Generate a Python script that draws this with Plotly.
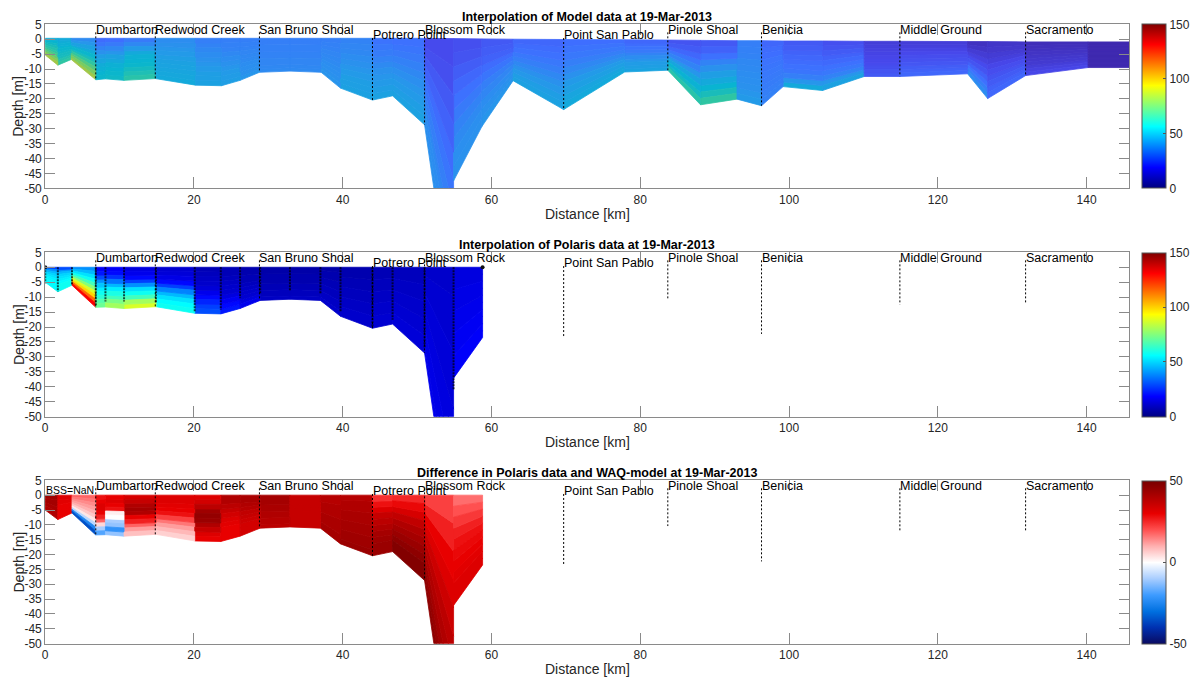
import plotly.graph_objects as go
from plotly.colors import sample_colorscale

# ---------------- model transect (km along the channel, depths in m) ----------------
model_km = [0.0, 1.7, 3.5, 6.8, 8.1, 10.6, 14.8, 20.2, 23.7, 26.2, 28.8, 32.9, 37.1, 39.7,
            44.0, 46.7, 51.0, 54.9, 54.9, 58.7, 62.9, 69.7, 77.9, 83.7, 88.1, 93.0, 96.3,
            99.2, 104.5, 110.1, 114.9, 124.0, 126.7, 131.8, 140.2, 145.7]
model_bottom_m = [-5.3, -8.7, -6.8, -13.6, -13.3, -13.8, -13.2, -15.4, -15.6, -13.8, -11.1,
                  -10.7, -11.1, -16.4, -20.4, -19.0, -28.7, -95.0, -47.5, -29.3, -13.9,
                  -23.6, -11.0, -10.4, -22.0, -20.1, -22.3, -15.9, -17.2, -12.5, -12.5,
                  -11.6, -19.9, -12.2, -9.5, -9.5]
model_surface_m = [0.3, 0.3, 0.3, 0.3, 0.3, 0.3, 0.3, 0.3, 0.3, 0.3, 0.3, 0.3, 0.3, 0.3,
                   0.3, 0.3, 0.3, 0.2, 0.2, 0.1, 0.0, -0.1, -0.2, -0.3, -0.4, -0.5, -0.5,
                   -0.6, -0.6, -0.7, -0.7, -0.8, -0.8, -0.9, -0.9, -0.9]
# one row per column between neighbouring grid points, surface layer first
model_ssc = [
    [62, 66, 70, 74, 78, 82, 88, 94, 100, 106],
    [60, 62, 64, 66, 68, 70, 72, 74, 78, 82],
    [45, 50, 56, 62, 68, 74, 82, 90, 98, 106],
    [32, 36, 42, 48, 54, 58, 62, 64, 66, 68],
    [33, 38, 44, 50, 56, 60, 64, 66, 68, 70],
    [38, 44, 52, 60, 64, 66, 68, 72, 76, 80],
    [46, 48, 50, 52, 54, 56, 57, 58, 59, 60],
    [40, 42, 44, 46, 48, 50, 52, 54, 55, 56],
    [40, 41, 42, 44, 46, 48, 50, 52, 53, 54],
    [40, 41, 42, 43, 44, 45, 46, 47, 48, 50],
    [40, 40, 41, 41, 42, 42, 43, 43, 44, 45],
    [40, 40, 41, 41, 42, 42, 43, 43, 44, 45],
    [40, 41, 42, 43, 44, 45, 46, 47, 48, 49],
    [42, 43, 44, 46, 48, 50, 52, 54, 55, 56],
    [35, 37, 39, 42, 45, 48, 50, 52, 54, 56],
    [34, 36, 38, 41, 44, 47, 50, 52, 54, 56],
    [18, 20, 24, 28, 32, 36, 40, 44, 46, 48],
    [18, 20, 24, 28, 32, 36, 40, 44, 46, 48],
    [20, 22, 26, 30, 34, 38, 42, 45, 47, 48],
    [24, 26, 28, 32, 36, 40, 43, 46, 48, 50],
    [30, 32, 34, 37, 40, 44, 48, 51, 54, 56],
    [33, 35, 37, 40, 44, 48, 52, 55, 58, 60],
    [30, 32, 35, 38, 42, 46, 50, 53, 55, 57],
    [22, 25, 30, 36, 42, 50, 58, 65, 72, 80],
    [24, 28, 34, 42, 48, 54, 60, 66, 74, 82],
    [40, 41, 42, 44, 45, 46, 47, 48, 50, 52],
    [30, 32, 33, 35, 36, 37, 38, 39, 40, 41],
    [24, 26, 28, 30, 32, 34, 36, 40, 50, 60],
    [20, 22, 25, 28, 31, 34, 37, 42, 50, 56],
    [12, 13, 14, 15, 16, 17, 18, 20, 22, 24],
    [12, 13, 15, 17, 19, 21, 23, 26, 28, 30],
    [6, 8, 11, 14, 18, 22, 28, 34, 40, 46],
    [8, 9, 11, 13, 16, 19, 22, 25, 28, 30],
    [4, 5, 6, 7, 8, 9, 10, 12, 14, 16],
    [2, 2, 2, 2, 2, 2, 2, 2, 2, 2],
]

# ---------------- Polaris cruise grid ----------------
polaris_km = [0.0, 1.7, 3.6, 6.8, 8.1, 10.6, 14.9, 20.1, 23.6, 26.2, 28.9, 32.9, 37.0,
              39.7, 44.0, 46.7, 51.0, 54.9, 54.9, 58.8]
polaris_bottom_m = [-5.0, -8.2, -6.0, -13.4, -13.3, -13.8, -13.2, -15.4, -15.6, -13.8,
                    -11.1, -10.7, -11.1, -16.4, -20.4, -19.0, -28.7, -95.0, -37.1, -23.5]
polaris_surface_m = [0.0] * 20
polaris_ssc = [
    [28, 40, 46, 50, 52, 54, 55, 56, 56, 56],
    [30, 40, 46, 50, 52, 54, 56, 58, 58, 58],
    [40, 46, 52, 58, 66, 76, 88, 100, 116, 132],
    [18, 22, 30, 40, 48, 54, 58, 62, 68, 72],
    [18, 20, 26, 36, 46, 54, 60, 66, 74, 80],
    [14, 16, 20, 28, 40, 52, 58, 66, 80, 88],
    [12, 13, 15, 20, 28, 38, 46, 52, 56, 58],
    [8, 9, 10, 11, 13, 16, 20, 24, 28, 30],
    [8, 8, 9, 10, 11, 12, 14, 17, 20, 22],
    [7, 7, 8, 8, 9, 10, 11, 12, 14, 16],
    [6, 6, 7, 7, 7, 8, 8, 9, 9, 10],
    [6, 6, 7, 7, 7, 8, 8, 9, 9, 10],
    [6, 7, 7, 8, 8, 9, 9, 10, 10, 11],
    [7, 7, 8, 8, 9, 9, 10, 10, 11, 11],
    [8, 8, 9, 9, 10, 10, 11, 11, 12, 12],
    [9, 9, 10, 10, 11, 11, 12, 12, 13, 13],
    [11, 12, 12, 13, 13, 14, 14, 15, 15, 16],
    [11, 12, 12, 13, 13, 14, 14, 15, 15, 16],
    [14, 14, 15, 15, 16, 16, 17, 17, 18, 18],
]
difference = [
    [43, 43, 42, 42, 42, 41, 41, 40, 40, 40],
    [32, 32, 31, 31, 30, 30, 30, 30, 30, 30],
    [18, 16, 14, 12, 10, 7, 3, -8, -25, -35],
    [28, 30, 32, 32, 30, 26, 18, 5, -10, -18],
    [30, 32, 30, 28, 2, 0, -10, -12, -22, -12],
    [33, 36, 40, 42, 40, 30, 26, 18, 12, 8],
    [32, 32, 31, 30, 28, 22, 16, 12, 9, 6],
    [32, 34, 38, 43, 45, 44, 40, 36, 32, 30],
    [40, 40, 38, 36, 34, 32, 31, 30, 30, 30],
    [41, 41, 40, 39, 37, 36, 35, 34, 34, 34],
    [42, 42, 42, 41, 41, 40, 40, 39, 39, 38],
    [36, 36, 36, 36, 36, 36, 36, 36, 36, 36],
    [39, 39, 40, 40, 40, 41, 41, 41, 42, 42],
    [39, 40, 40, 41, 41, 42, 42, 43, 43, 44],
    [24, 28, 32, 36, 38, 40, 42, 43, 44, 44],
    [25, 29, 33, 37, 40, 42, 44, 46, 48, 48],
    [22, 26, 30, 32, 35, 38, 40, 42, 44, 46],
    [22, 26, 30, 32, 35, 38, 40, 42, 44, 46],
    [17, 20, 23, 26, 28, 29, 30, 31, 32, 32],
]

# sampled profiles of the cruise
profile_km = [0.0, 1.7, 3.6, 6.8, 8.1, 10.6, 14.9, 20.1, 23.6, 26.2, 28.9, 32.9, 37.0,
              39.7, 44.0, 46.7, 51.0, 54.9]
profile_bottom_m = [-5.4, -8.1, -5.9, -12.6, -11.5, -11.5, -12.0, -14.8, -14.2, -10.4,
                    -8.7, -8.0, -8.7, -14.8, -19.8, -17.6, -27.0, -41.0]
surface_sample_km = [0.0, 58.8]

# named stations along the transect
station_names = ["Dumbarton", "Redwood Creek", "San Bruno Shoal", "Potrero Point",
                 "Blossom Rock", "Point San Pablo", "Pinole Shoal", "Benicia",
                 "Middle Ground", "Sacramento"]
station_km = [6.8, 14.8, 28.8, 44.0, 51.0, 69.7, 83.7, 96.3, 114.9, 131.8]
station_label_m = [3.2, 3.2, 3.2, 1.3, 3.2, 1.3, 3.2, 3.2, 3.2, 3.2]
station_bottom_m = [-13.6, -13.2, -11.1, -20.4, -28.7, -23.6, -10.4, -22.3, -12.5, -12.2]

titles = ["Interpolation of Model data at 19-Mar-2013",
          "Interpolation of Polaris data at 19-Mar-2013",
          "Difference in Polaris data and WAQ-model at 19-Mar-2013"]

x_ticks = [0, 20, 40, 60, 80, 100, 120, 140]
y_ticks = [5, 0, -5, -10, -15, -20, -25, -30, -35, -40, -45, -50]
X_RANGE = [0, 145.7]
Y_RANGE = [-50, 5]

# ---------------- colour maps ----------------
JET = [[0.0, "rgb(0,0,128)"], [0.125, "rgb(0,0,255)"], [0.375, "rgb(0,255,255)"],
       [0.625, "rgb(255,255,0)"], [0.875, "rgb(255,0,0)"], [1.0, "rgb(128,0,0)"]]
PARULA = [[0.0, "rgb(62,38,168)"], [0.111, "rgb(71,71,235)"], [0.222, "rgb(62,111,255)"],
          [0.333, "rgb(39,150,235)"], [0.444, "rgb(8,181,208)"], [0.556, "rgb(49,198,159)"],
          [0.667, "rgb(129,204,89)"], [0.778, "rgb(220,189,41)"], [0.889, "rgb(252,207,48)"],
          [1.0, "rgb(249,251,21)"]]
BWR = [[0.0, "rgb(10,10,96)"], [0.1, "rgb(0,48,176)"], [0.2, "rgb(0,112,224)"],
       [0.3, "rgb(61,155,255)"], [0.4, "rgb(168,205,255)"], [0.5, "rgb(255,255,255)"],
       [0.6, "rgb(255,176,176)"], [0.7, "rgb(255,80,80)"], [0.8, "rgb(232,0,0)"],
       [0.9, "rgb(176,0,0)"], [1.0, "rgb(120,0,0)"]]

FONT = "Liberation Sans, Arial, Helvetica, sans-serif"
W, H = 1194, 677
AX_LEFT, AX_RIGHT = 45.2, 1129.0
PANELS = [(24.3, 188.3), (252.3, 416.7), (480.3, 643.7)]


def px_x(p):
    return p / W


def px_y(p):
    return 1 - p / H


def clip_to_floor(pts, floor):
    """Cut a polygon at the lower edge of the visible depth range."""
    out = []
    for i in range(len(pts)):
        cur, prev = pts[i], pts[i - 1]
        cur_in, prev_in = cur[1] >= floor, prev[1] >= floor
        if cur_in != prev_in:
            f = (floor - prev[1]) / (cur[1] - prev[1])
            out.append((prev[0] + f * (cur[0] - prev[0]), floor))
        if cur_in:
            out.append(cur)
    return out


fig = go.Figure()


def add_cells(km, bottom, surface, values, cscale, vmin, vmax, ax):
    """Fill each sigma-layer cell of the section with a flat colour."""
    groups = {}
    n_layers = len(values[0])

    def depth(j, s):
        return surface[j] + (bottom[j] - surface[j]) * s

    for i in range(len(km) - 1):
        if km[i + 1] == km[i]:
            continue
        for k in range(n_layers):
            s0, s1 = k / n_layers, (k + 1) / n_layers
            pts = [(km[i], depth(i, s0)), (km[i + 1], depth(i + 1, s0)),
                   (km[i + 1], depth(i + 1, s1)), (km[i], depth(i, s1))]
            pts = clip_to_floor(pts, Y_RANGE[0])
            if len(pts) < 3:
                continue
            t = (values[i][k] - vmin) / (vmax - vmin)
            t = min(max(t, 0.0), 1.0)
            col = sample_colorscale(cscale, [t])[0]
            gx, gy = groups.setdefault(col, ([], []))
            gx.extend([p[0] for p in pts] + [pts[0][0], None])
            gy.extend([p[1] for p in pts] + [pts[0][1], None])
    for col, (gx, gy) in groups.items():
        fig.add_trace(go.Scatter(x=gx, y=gy, mode="lines", fill="toself", fillcolor=col,
                                 line=dict(color=col, width=0.8, simplify=False),
                                 hoverinfo="skip", showlegend=False,
                                 xaxis="x" + ax, yaxis="y" + ax))


add_cells(model_km, model_bottom_m, model_surface_m, model_ssc, PARULA, 0, 150, "")
add_cells(polaris_km, polaris_bottom_m, polaris_surface_m, polaris_ssc, JET, 0, 150, "2")
add_cells(polaris_km, polaris_bottom_m, polaris_surface_m, difference, BWR, -50, 50, "3")

# cruise sampling profiles
for xk, zb in zip(profile_km, profile_bottom_m):
    fig.add_trace(go.Scatter(x=[xk, xk], y=[0, zb], mode="lines",
                             line=dict(color="rgba(0,0,0,0.7)", width=2, dash="2px,1px"),
                             hoverinfo="skip", showlegend=False, xaxis="x2", yaxis="y2"))
fig.add_trace(go.Scatter(x=surface_sample_km, y=[0, 0], mode="markers",
                         marker=dict(color="#111", size=4), hoverinfo="skip",
                         showlegend=False, xaxis="x2", yaxis="y2"))

annotations = []
for p, ax in enumerate(["", "2", "3"]):
    # station markers
    for name, xk, zl, zb in zip(station_names, station_km, station_label_m, station_bottom_m):
        fig.add_trace(go.Scatter(x=[xk, xk], y=[zl - 0.9, zb], mode="lines",
                                 line=dict(color="black", width=1, dash="2px,2px"),
                                 hoverinfo="skip", showlegend=False,
                                 xaxis="x" + ax, yaxis="y" + ax))
        annotations.append(dict(x=xk, y=zl, xref="x" + ax, yref="y" + ax, text=name,
                                showarrow=False, xanchor="left", yanchor="middle",
                                xshift=-2, font=dict(family=FONT, size=12.5, color="black")))
    top, bot = PANELS[p]
    annotations.append(dict(x=px_x((AX_LEFT + AX_RIGHT) / 2), y=px_y(top - 7), xref="paper",
                            yref="paper", text="<b>" + titles[p] + "</b>", showarrow=False,
                            xanchor="center", yanchor="middle",
                            font=dict(family=FONT, size=12.5, color="black")))
    annotations.append(dict(x=px_x((AX_LEFT + AX_RIGHT) / 2), y=px_y(bot + 25.5), xref="paper",
                            yref="paper", text="Distance [km]", showarrow=False,
                            xanchor="center", yanchor="middle",
                            font=dict(family=FONT, size=14, color="#262626")))
    annotations.append(dict(x=px_x(18.5), y=px_y((top + bot) / 2), xref="paper", yref="paper",
                            text="Depth [m]", showarrow=False, textangle=-90,
                            xanchor="center", yanchor="middle",
                            font=dict(family=FONT, size=14, color="#262626")))

annotations.append(dict(x=0.0, y=1.75, xref="x3", yref="y3", text="BSS=NaN", showarrow=False,
                        xanchor="left", yanchor="middle", xshift=-1,
                        font=dict(family=FONT, size=10.5, color="black")))

# colour bars (one per panel)
cbar_ranges = [(0, 150, JET, [0, 50, 100, 150], ["0", "50", "100", "150"]),
               (0, 150, JET, [0, 50, 100, 150], ["0", "50", "100", "150"]),
               (-50, 50, BWR, [-50, 0, 50], ["-50", "0", "50"])]
coloraxes = {}
for p, (lo, hi, cs, tv, tt) in enumerate(cbar_ranges):
    top, bot = PANELS[p]
    name = "coloraxis" if p == 0 else "coloraxis%d" % (p + 1)
    coloraxes[name] = dict(
        cmin=lo, cmax=hi, colorscale=cs,
        colorbar=dict(x=px_x(1142), xanchor="left", y=px_y((top + bot) / 2), yanchor="middle",
                      len=bot - top, lenmode="pixels", thickness=24, thicknessmode="pixels",
                      xpad=0, ypad=0, outlinewidth=1, outlinecolor="#555",
                      tickvals=tv, ticktext=tt, ticks="inside", ticklen=3, tickcolor="#555",
                      tickfont=dict(family=FONT, size=12, color="#262626")))
    ax = "" if p == 0 else str(p + 1)
    fig.add_trace(go.Scatter(x=[-20, -20], y=[-20, -20], mode="markers",
                             marker=dict(color=[lo, hi], coloraxis=name, size=2),
                             hoverinfo="skip", showlegend=False,
                             xaxis="x" + ax, yaxis="y" + ax))

layout = dict(width=W, height=H, margin=dict(l=0, r=0, t=0, b=0, autoexpand=False),
              autosize=False, paper_bgcolor="white", plot_bgcolor="white", showlegend=False,
              annotations=annotations, font=dict(family=FONT, color="#262626"))
layout.update(coloraxes)
for p in range(3):
    top, bot = PANELS[p]
    sx = "" if p == 0 else str(p + 1)
    layout["xaxis" + sx] = dict(
        domain=[px_x(AX_LEFT), px_x(AX_RIGHT)], anchor="y" + sx, range=X_RANGE,
        tickvals=x_ticks, ticktext=[str(v) for v in x_ticks], ticks="inside", ticklen=11,
        tickcolor="#8a8a8a", showline=True, linecolor="#8a8a8a", linewidth=1,
        mirror="ticks", showgrid=False, zeroline=False, automargin=False,
        tickfont=dict(family=FONT, size=12, color="#262626"))
    layout["yaxis" + sx] = dict(
        domain=[px_y(bot), px_y(top)], anchor="x" + sx, range=Y_RANGE,
        tickvals=y_ticks, ticktext=[str(v) for v in y_ticks], ticks="inside", ticklen=10,
        tickcolor="#8a8a8a", showline=True, linecolor="#8a8a8a", linewidth=1,
        mirror="ticks", showgrid=False, zeroline=False, automargin=False,
        tickfont=dict(family=FONT, size=12, color="#262626"))
fig.update_layout(**layout)

fig.write_html("out.html")
